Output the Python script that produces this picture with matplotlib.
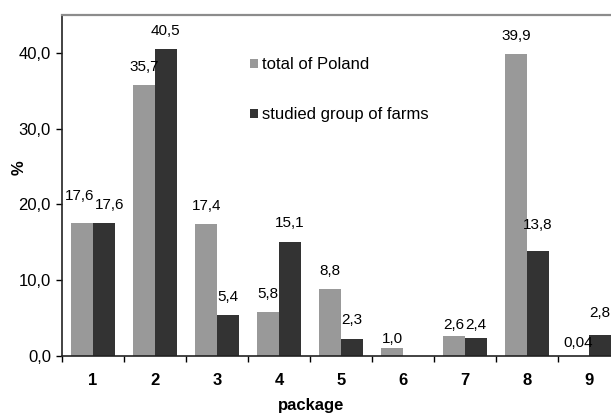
import matplotlib
matplotlib.use('Agg')
import matplotlib.pyplot as plt
import numpy as np

packages = ['1', '2', '3', '4', '5', '6', '7', '8', '9']
poland = [17.6, 35.7, 17.4, 5.8, 8.8, 1.0, 2.6, 39.9, 0.04]
farms = [17.6, 40.5, 5.4, 15.1, 2.3, np.nan, 2.4, 13.8, 2.8]
poland_labels = ['17,6', '35,7', '17,4', '5,8', '8,8', '1,0', '2,6', '39,9', '0,04']
farms_labels = ['17,6', '40,5', '5,4', '15,1', '2,3', '', '2,4', '13,8', '2,8']
yticks = [0, 10, 20, 30, 40]

# hand-moved labels in the original (dx, dy in points)
nudge = {
    (0, 0): (-2, 6), (1, 0): (4, 0),
    (0, 5): (0, -6), (0, 6): (0, -5), (1, 6): (0, -4),
    (1, 7): (0, 6), (0, 8): (0, -4), (1, 8): (0, 3),
}


def main():
    plt.rcParams['font.family'] = ['Liberation Sans', 'DejaVu Sans']

    W, H = 611, 415
    fig = plt.figure(figsize=(W / 100, H / 100), dpi=100)
    # plot area runs past the right edge, as in the original
    ax = fig.add_axes([62 / W, 1 - 356 / H, (620 - 62) / W, (356 - 15) / H])

    x = np.arange(len(packages))
    w = 0.35
    b1 = ax.bar(x - w / 2, poland, w, color='#999999', label='total of Poland')
    b2 = ax.bar(x + w / 2, np.nan_to_num(farms), w, color='#333333',
                label='studied group of farms')

    # value labels above each bar
    for s, (bars, labels) in enumerate(((b1, poland_labels), (b2, farms_labels))):
        for i, (r, lab) in enumerate(zip(bars, labels)):
            if not lab:
                continue
            dx, dy = nudge.get((s, i), (0, 0))
            ax.annotate(lab, (r.get_x() + r.get_width() / 2, r.get_height()),
                        xytext=(dx, 8 + dy), textcoords='offset points',
                        ha='center', va='bottom', fontsize=11)

    ax.set_xlim(-0.5, len(packages) - 0.5)
    ax.set_ylim(0, 45)
    ax.set_yticks(yticks)
    ax.set_yticklabels(['%d,0' % v for v in yticks], fontsize=12)

    # ticks between groups, labels in the middle
    ax.set_xticks(np.arange(len(packages) + 1) - 0.5)
    ax.set_xticklabels([])
    ax.set_xticks(x, minor=True)
    ax.set_xticklabels(packages, minor=True, fontsize=12, fontweight='bold')
    ax.tick_params(axis='x', which='major', direction='out', length=4, width=1)
    ax.tick_params(axis='x', which='minor', length=0, pad=12)
    ax.tick_params(axis='y', direction='out', length=4, width=1, pad=4)

    ax.set_xlabel('package', fontsize=12, fontweight='bold', va='center')
    ax.xaxis.set_label_coords((311 - 62) / 558, (356 - 405) / 341)
    ax.set_ylabel('%', fontsize=12, fontweight='bold', va='center')
    ax.yaxis.set_label_coords((19 - 62) / 558, (356 - 168) / 341)

    ax.spines['top'].set_color('#8c8c8c')
    ax.spines['top'].set_linewidth(1.6)
    ax.spines['left'].set_color('#222222')
    ax.spines['left'].set_linewidth(1.2)
    ax.spines['bottom'].set_color('#222222')
    ax.spines['bottom'].set_linewidth(1.2)
    ax.spines['right'].set_visible(False)

    fig.legend(loc='upper left', bbox_to_anchor=(250 / W, 1 - 57 / H),
               frameon=False, fontsize=12, handlelength=0.45, handleheight=0.45,
               handletextpad=0.3, labelspacing=2.1, borderpad=0, borderaxespad=0)

    fig.savefig('out.png', dpi=100)


if __name__ == '__main__':
    main()
